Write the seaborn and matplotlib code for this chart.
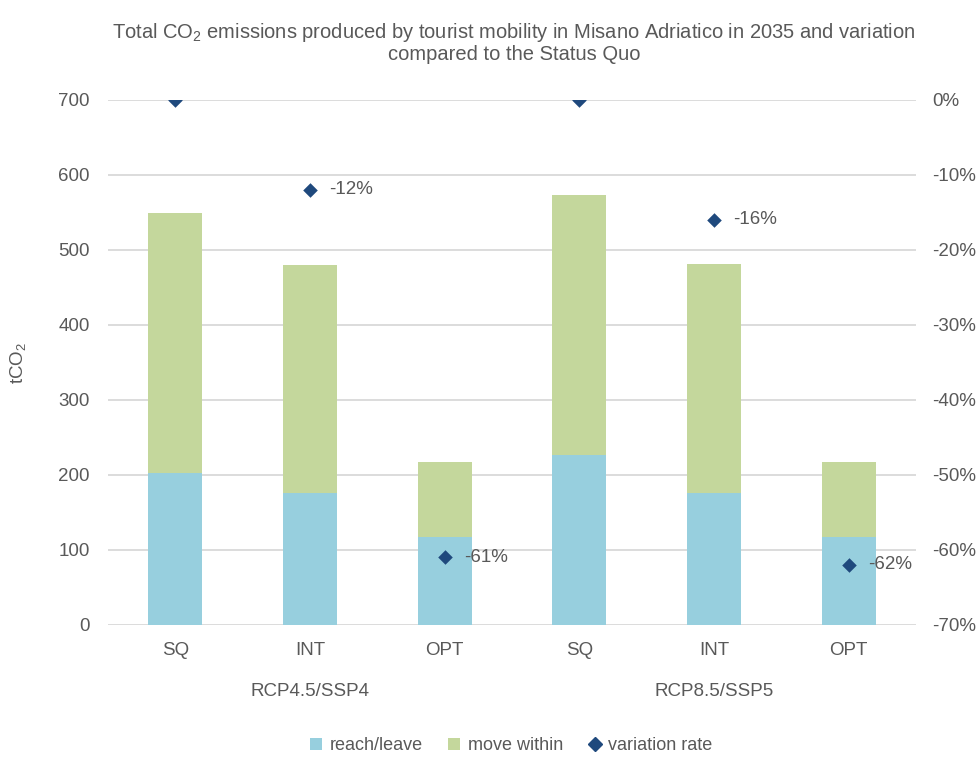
import matplotlib
matplotlib.use("Agg")
import matplotlib.pyplot as plt
from matplotlib.lines import Line2D
from matplotlib.patches import Patch
import numpy as np
import pandas as pd
import seaborn as sns

# Scenario / strategy layout
scenarios = ["RCP4.5/SSP4", "RCP4.5/SSP4", "RCP4.5/SSP4", "RCP8.5/SSP5", "RCP8.5/SSP5", "RCP8.5/SSP5"]
strategies = ["SQ", "INT", "OPT", "SQ", "INT", "OPT"]

# Emissions (tCO2)
reach_leave = [203, 176, 117, 226, 176, 117]
move_within = [346, 304, 100, 347, 305, 100]

# Variation rate vs. status quo
variation = [0.00, -0.12, -0.61, 0.00, -0.16, -0.62]
variation_labels = ["", "-12%", "-61%", "", "-16%", "-62%"]

left_ticks = [0, 100, 200, 300, 400, 500, 600, 700]
right_ticks = [0.0, -0.1, -0.2, -0.3, -0.4, -0.5, -0.6, -0.7]

BLUE = "#97CFDE"
GREEN = "#C4D79C"
NAVY = "#1F497D"
TEXT = "#595959"
GRID = "#D9D9D9"
FS = 13.5

sns.set_theme(style="white")
plt.rcParams["font.family"] = ["Liberation Sans", "DejaVu Sans"]
plt.rcParams["mathtext.fontset"] = "custom"
plt.rcParams["mathtext.rm"] = "Liberation Sans"
plt.rcParams["mathtext.it"] = "Liberation Sans"

cases = [f"{s}|{t}" for s, t in zip(scenarios, strategies)]
df = pd.DataFrame({
    "case": cases,
    "reach": reach_leave,
    "total": np.array(reach_leave) + np.array(move_within),
})

fig = plt.figure(figsize=(9.77, 7.62), dpi=100)
ax = fig.add_axes([0.1105, 0.1798, 0.827, 0.689])

sns.barplot(data=df, x="case", y="total", order=cases, color=GREEN,
            width=0.4, saturation=1, linewidth=0, ax=ax, zorder=2)
sns.barplot(data=df, x="case", y="reach", order=cases, color=BLUE,
            width=0.4, saturation=1, linewidth=0, ax=ax, zorder=3)

ax.set_xlim(-0.5, len(cases) - 0.5)
ax.set_ylim(0, 700)
ax.set_yticks(left_ticks)
ax.yaxis.grid(True, color=GRID, linewidth=1.3, zorder=0)
ax.set_axisbelow(True)
for sp in ax.spines.values():
    sp.set_visible(False)
ax.tick_params(axis="both", length=0, labelsize=FS, colors=TEXT)
ax.tick_params(axis="y", pad=13)
ax.tick_params(axis="x", pad=12)
ax.set_xticks(range(len(cases)))
ax.set_xticklabels(strategies)
ax.set_xlabel("")
ax.set_ylabel("tCO$_2$", fontsize=FS, color=TEXT)
ax.yaxis.set_label_coords(-0.099, 0.5)

# Scenario group labels below the strategy labels
for scen in dict.fromkeys(scenarios):
    idx = [i for i, s in enumerate(scenarios) if s == scen]
    ax.text(np.mean(idx), -0.11, scen, transform=ax.get_xaxis_transform(),
            ha="center", va="top", fontsize=FS, color=TEXT)

# Secondary axis with the variation rate
ax2 = ax.twinx()
xs = np.arange(len(cases))
sns.scatterplot(x=xs, y=variation, marker="D", s=55, color=NAVY,
                edgecolor=NAVY, linewidth=0, ax=ax2, zorder=5)
ax2.set_ylim(-0.70, 0.0)
ax2.set_yticks(right_ticks)
ax2.set_yticklabels([f"{int(round(v * 100))}%" for v in right_ticks])
ax2.tick_params(axis="y", length=0, labelsize=FS, colors=TEXT, pad=12)
for sp in ax2.spines.values():
    sp.set_visible(False)
ax2.grid(False)
for x, v, lab in zip(xs, variation, variation_labels):
    if lab:
        ax2.annotate(lab, (x, v), xytext=(14, 0), textcoords="offset points",
                     ha="left", va="center", fontsize=FS, color=TEXT)

fig.text(0.526, 0.958, "Total CO$_2$ emissions produced by tourist mobility in Misano Adriatico in 2035 and variation",
         ha="center", va="center", fontsize=14.5, color=TEXT)
fig.text(0.526, 0.929, "compared to the Status Quo",
         ha="center", va="center", fontsize=14.5, color=TEXT)

handles = [
    Patch(facecolor=BLUE, edgecolor="none", label="reach/leave"),
    Patch(facecolor=GREEN, edgecolor="none", label="move within"),
    Line2D([], [], marker="D", color=NAVY, linestyle="none", markersize=7, label="variation rate"),
]
leg = fig.legend(handles=handles, loc="center", bbox_to_anchor=(0.523, 0.021), ncol=3,
                 frameon=False, fontsize=13, handlelength=0.7, handleheight=0.7,
                 handletextpad=0.4, columnspacing=1.4)
for t in leg.get_texts():
    t.set_color(TEXT)

fig.savefig("out.png", dpi=100, facecolor="white")
